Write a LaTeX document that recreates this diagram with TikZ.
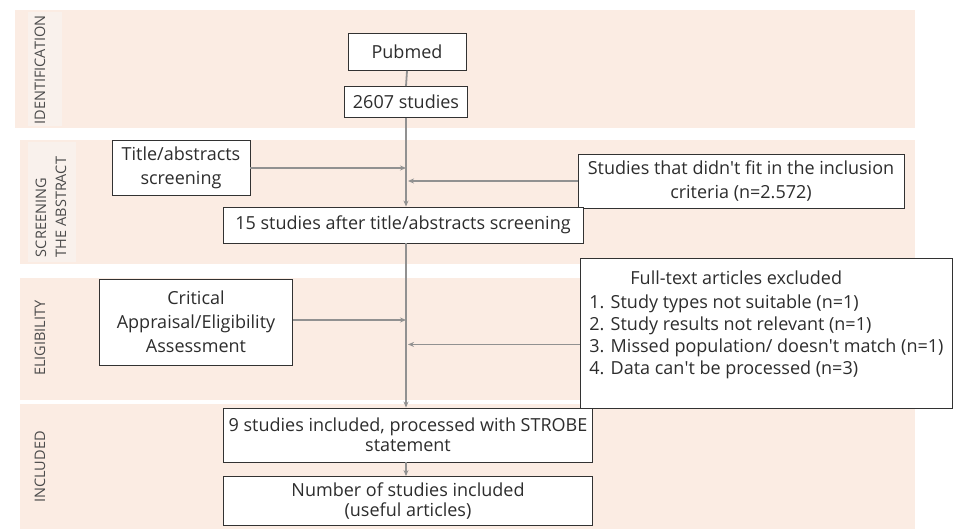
\documentclass[tikz,border=0pt]{standalone}
\usepackage{fontspec}
\setmainfont{Open Sans}
\usepackage{tikz}
\usetikzlibrary{positioning,arrows.meta}
\definecolor{bandpeach}{RGB}{251,236,227}
\definecolor{labelpeach}{RGB}{249,241,236}
\definecolor{flowgray}{RGB}{145,145,145}
\definecolor{boxline}{RGB}{50,50,50}
\definecolor{boxtext}{RGB}{45,45,45}
\definecolor{phasetext}{RGB}{75,75,75}
\tikzset{
  stagebox/.style={draw=boxline,fill=white,line width=0.9pt,inner sep=3pt,align=center,font=\fontsize{18}{24}\selectfont\color{boxtext}},
  phaselabel/.style={rotate=90,align=left,font=\fontsize{14.5}{20}\selectfont\color{phasetext}},
  flow/.style={draw=flowgray,line width=1.8pt,-{Stealth[length=6pt,width=5pt]}},
  plainflow/.style={draw=flowgray,line width=1.8pt}
}
\newcommand{\apos}{\textquotesingle}

\begin{document}
\begin{tikzpicture}[x=1pt,y=-1pt]
    \useasboundingbox (0,0) rectangle (954,529);

    % background bands
    \fill[bandpeach] (15,10) rectangle (915,128);
    \fill[bandpeach] (20,140) rectangle (915,264);
    \fill[bandpeach] (20,278) rectangle (915,400);
    \fill[bandpeach] (20,404) rectangle (915,529);
    \fill[labelpeach] (28,12) rectangle (62,126);
    \fill[labelpeach] (28,142) rectangle (76,262);

    \node[phaselabel] (idlab) at (40,70) {IDENTIFICATION};
    \node[phaselabel] (sclab) at (51,207) {SCREENING\\THE ABSTRACT};
    \node[phaselabel] (ellab) at (40,338) {ELIGIBILITY};
    \node[phaselabel] (inlab) at (40,467) {INCLUDED};

    % boxes
    \node[stagebox,minimum width=118pt,minimum height=37pt] (pubmed) at (407,52) {Pubmed};
    \node[stagebox,minimum width=123pt,minimum height=31pt] (total) at (406,102) {2607 studies};
    \node[stagebox,minimum width=138pt,minimum height=55pt] (titlescr) at (181,168) {Title/abstracts\\screening};
    \node[stagebox,minimum width=326pt,minimum height=54pt] (nofit) at (741,181) {Studies that didn\apos t fit in the inclusion\\criteria (n=2.572)};
    \node[stagebox,minimum width=360pt,minimum height=36pt] (after) at (403,225) {15 studies after title/abstracts screening};
    \node[stagebox,minimum width=193pt,minimum height=86pt] (critical) at (196,322) {Critical\\Appraisal/Eligibility\\Assessment};
    \node[stagebox,anchor=north west,align=left,minimum width=372pt,minimum height=150pt,inner xsep=8pt,font=\fontsize{18}{22}\selectfont\color{boxtext}] (fulltext) at (580,258) {\hspace*{41pt}Full-text articles excluded\\[2pt]1. Study types not suitable (n=1)\\2. Study results not relevant (n=1)\\3. Missed population/ doesn\apos t match (n=1)\\4. Data can\apos t be processed (n=3)\\\mbox{}};
    \node[stagebox,minimum width=369pt,minimum height=54pt,font=\fontsize{18}{20}\selectfont\color{boxtext}] (included) at (408,435) {9 studies included, processed with STROBE\\statement};
    \node[stagebox,minimum width=369pt,minimum height=49pt,font=\fontsize{18}{20}\selectfont\color{boxtext}] (useful) at (408,501) {Number of studies included\\(useful articles)};

    % connectors
    \draw[plainflow] (pubmed.south) -- (total.north);
    \draw[flow] (total.south) -- (total.south |- after.north);
    \draw[flow] (titlescr.east) -- (titlescr.east -| total.south);
    \draw[flow] (nofit.west) -- ([xshift=2pt]nofit.west -| total.south);
    \draw[flow] (after.south -| total.south) -- (included.north -| total.south);
    \draw[flow] ([yshift=2pt]critical.east) -- ([yshift=2pt]critical.east -| total.south);
    \draw[flow] ([yshift=-11pt]fulltext.west) -- ([yshift=-11pt,xshift=2pt]fulltext.west -| total.south);
    \draw[flow] (included.south -| total.south) -- (useful.north -| total.south);
\end{tikzpicture}
\end{document}
